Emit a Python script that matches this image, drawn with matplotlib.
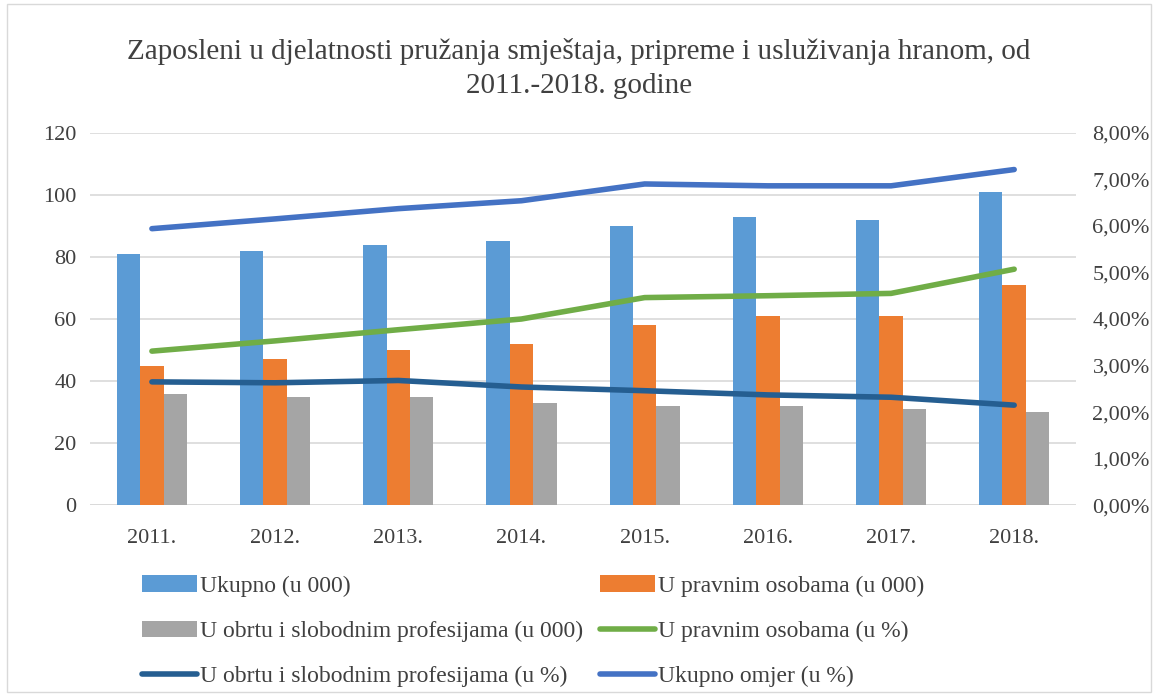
import matplotlib
matplotlib.use("Agg")
import matplotlib.pyplot as plt
import numpy as np
from matplotlib.patches import Rectangle
from matplotlib.ticker import FuncFormatter

plt.rcParams['font.family'] = ['Liberation Serif', 'DejaVu Serif']

years = ['2011.', '2012.', '2013.', '2014.', '2015.', '2016.', '2017.', '2018.']
ukupno = [81, 82, 84, 85, 90, 93, 92, 101]
pravne = [45, 47, 50, 52, 58, 61, 61, 71]
obrt = [36, 35, 35, 33, 32, 32, 31, 30]
pravne_pct = [3.31, 3.53, 3.77, 4.00, 4.46, 4.50, 4.55, 5.07]
obrt_pct = [2.65, 2.63, 2.68, 2.54, 2.46, 2.37, 2.32, 2.15]
ukupno_pct = [5.94, 6.15, 6.37, 6.54, 6.90, 6.86, 6.86, 7.21]

c_uk = '#5B9BD5'
c_pr = '#ED7D31'
c_ob = '#A5A5A5'
c_prl = '#70AD47'
c_obl = '#255E91'
c_ukl = '#4472C4'
txt = '#404040'

fig = plt.figure(figsize=(11.58, 6.95), dpi=100)
ax = fig.add_axes([0.078, 0.273, 0.851, 0.536])
ax2 = ax.twinx()

x = np.arange(len(years))
w = 0.19
b1 = ax.bar(x - w, ukupno, w, color=c_uk, label='Ukupno (u 000)', zorder=2)
b2 = ax.bar(x, pravne, w, color=c_pr, label='U pravnim osobama (u 000)', zorder=2)
b3 = ax.bar(x + w, obrt, w, color=c_ob, label='U obrtu i slobodnim profesijama (u 000)', zorder=2)

l1, = ax2.plot(x, pravne_pct, color=c_prl, lw=4, solid_capstyle='round', label='U pravnim osobama (u %)')
l2, = ax2.plot(x, obrt_pct, color=c_obl, lw=4, solid_capstyle='round', label='U obrtu i slobodnim profesijama (u %)')
l3, = ax2.plot(x, ukupno_pct, color=c_ukl, lw=4, solid_capstyle='round', label='Ukupno omjer (u %)')

ax.set_ylim(0, 120)
ax.set_yticks(range(0, 121, 20))
ax2.set_ylim(0, 8)
ax2.set_yticks(range(0, 9))
ax2.yaxis.set_major_formatter(FuncFormatter(lambda v, p: f'{v:.2f}%'.replace('.', ',')))
ax.set_xlim(-0.5, len(years) - 0.5)
ax.set_xticks(x)
ax.set_xticklabels(years)

ax.grid(axis='y', color='#D9D9D9', lw=1.2, zorder=0)
ax.set_axisbelow(True)
for a in (ax, ax2):
    for s in ['top', 'left', 'right', 'bottom']:
        a.spines[s].set_visible(False)
    a.tick_params(length=0, labelsize=16, colors=txt)
ax.axhline(0, color='#D9D9D9', lw=1.2, zorder=1)
ax.tick_params(axis='y', pad=10)
ax.tick_params(axis='x', pad=17)
ax2.tick_params(axis='y', pad=12)

fig.suptitle('Zaposleni u djelatnosti pružanja smještaja, pripreme i usluživanja hranom, od\n2011.-2018. godine',
             y=0.945, fontsize=21, color=txt, linespacing=1.4)

handles = [b1, b3, l2, b2, l1, l3]
leg = fig.legend(handles, [h.get_label() for h in handles], ncol=2, loc='upper left',
                 bbox_to_anchor=(0.123, 0.172), frameon=False, fontsize=17,
                 handlelength=2.3, handletextpad=0.12, columnspacing=0.75, labelspacing=1.0,
                 borderaxespad=0, borderpad=0)
for t in leg.get_texts():
    t.set_color(txt)

fig.patches.append(Rectangle((0.006, 0.004), 0.988, 0.99, transform=fig.transFigure,
                             fill=False, edgecolor='#D9D9D9', lw=1))

fig.savefig('out.png', dpi=100)
